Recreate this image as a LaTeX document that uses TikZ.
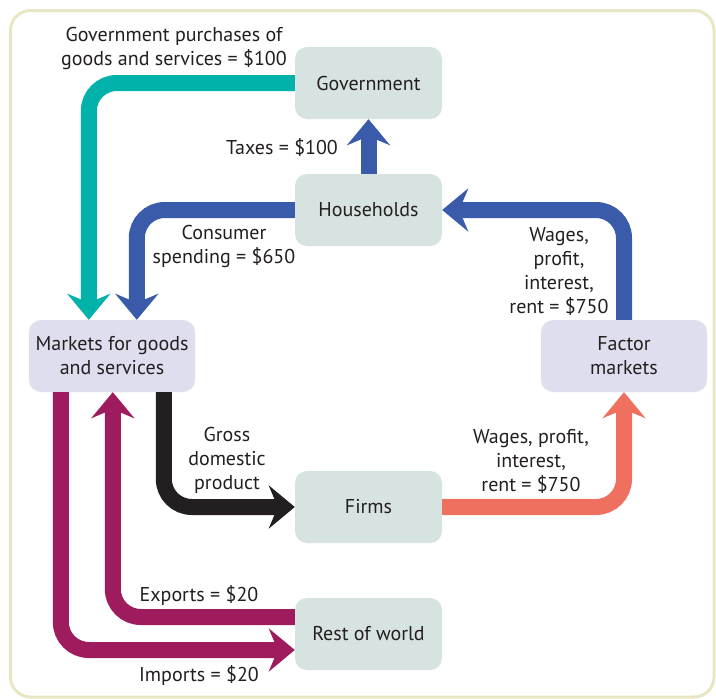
\documentclass[tikz,border=0pt]{standalone}
\usepackage{fontspec}
\setmainfont{PT Sans}
\usetikzlibrary{arrows.meta}
\definecolor{frame}{HTML}{E9E6C4}
\definecolor{boxgrey}{HTML}{D7E3E1}
\definecolor{boxlav}{HTML}{DFDEEF}
\definecolor{cteal}{HTML}{00B2A9}
\definecolor{cblue}{HTML}{3A5BA9}
\definecolor{cblack}{HTML}{231F20}
\definecolor{csalmon}{HTML}{F07060}
\definecolor{cmag}{HTML}{9E1C5E}
\tikzset{
  box/.style={rounded corners=12pt, minimum height=72pt, align=center, inner sep=0pt, font=\fontsize{20}{24}\selectfont, text=cblack},
  greybox/.style={box, fill=boxgrey, minimum width=147pt},
  lavbox/.style={box, fill=boxlav, minimum width=166pt},
  flow/.style={line width=16pt, rounded corners=28pt, -{Stealth[length=26pt, width=43pt, inset=9pt]}},
  lbl/.style={align=center, inner sep=0pt, font=\fontsize{20}{24}\selectfont, text=cblack}
}
\begin{document}
\begin{tikzpicture}[x=1pt,y=-1pt]
\useasboundingbox (0,0) rectangle (716,699);
\fill[white] (0,0) rectangle (716,699);
\draw[frame, line width=3pt, rounded corners=20pt] (10.5,10.5) rectangle (714,697);

\node[greybox] (gov) at (368.5,83) {Government};
\node[greybox] (hh) at (368.5,210) {Households};
\node[lavbox] (mkt) at (112,356) {Markets for goods\\and services};
\node[lavbox] (fac) at (624,356) {Factor\\markets};
\node[greybox] (firms) at (368.5,507) {Firms};
\node[greybox] (row) at (368.5,634) {Rest of world};

\draw[flow, cteal] (gov.west) -| ([xshift=60pt]mkt.north west);
\draw[flow, cblue] (hh.west) -| ([xshift=108pt]mkt.north west);
\draw[flow, cblue] (hh.north) -- (gov.south);
\draw[flow, cblue] (fac.north) |- (hh.east);
\draw[flow, cblack] ([xshift=135pt]mkt.south west) |- (firms.west);
\draw[flow, csalmon] (firms.east) -| (fac.south);
\draw[flow, cmag] ([yshift=17pt]row.west) -| ([xshift=84pt]mkt.south west);
\draw[flow, cmag] ([xshift=32pt]mkt.south west) |- ([yshift=-16pt]row.west);

\node[lbl] (lgov) at (174,48) {Government purchases of\\goods and services = \$100};
\node[lbl] (ltax) at (282,147) {Taxes = \$100};
\node[lbl] (lcons) at (224,246) {Consumer\\spending = \$650};
\node[lbl] (lwage1) at (559,271) {Wages,\\profit,\\interest,\\rent = \$750};
\node[lbl] (lgdp) at (227,460) {Gross\\domestic\\product};
\node[lbl] (lwage2) at (531,461) {Wages, profit,\\interest,\\rent = \$750};
\node[lbl] (lexp) at (199,595) {Exports = \$20};
\node[lbl] (limp) at (199,675) {Imports = \$20};
\end{tikzpicture}
\end{document}
